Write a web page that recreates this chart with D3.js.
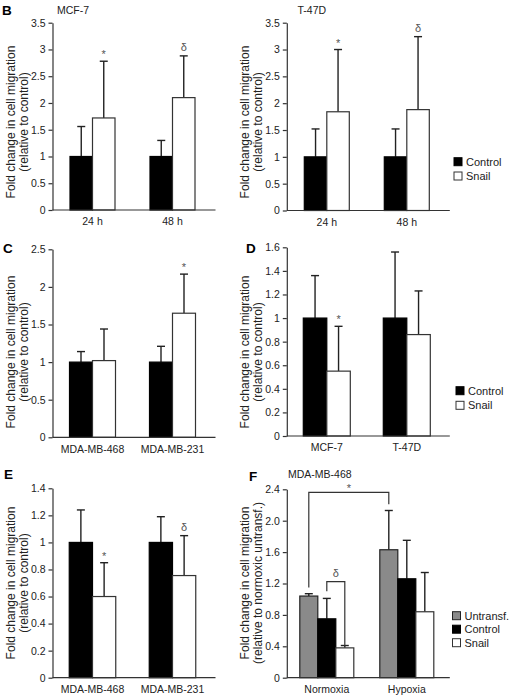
<!DOCTYPE html>
<html><head><meta charset="utf-8">
<script src="https://cdn.jsdelivr.net/npm/d3@7"></script>
<style>
body{margin:0;background:#fff}
text{font-family:"Liberation Sans",Arial,Helvetica,sans-serif;fill:#222}
</style>
</head><body>
<svg id="chart" width="515" height="696"></svg>
<script>
// ---------- DATA ----------
const timeCategories = ["24 h", "48 h"];
const mcf7Control = [1, 1];
const mcf7ControlErr = [0.56, 0.30];
const mcf7Snail = [1.72, 2.10];
const mcf7SnailErr = [1.06, 0.78];
const mcf7Marks = ["*", "δ"];

const t47dControl = [1, 1];
const t47dControlErr = [0.52, 0.52];
const t47dSnail = [1.84, 1.88];
const t47dSnailErr = [1.16, 1.36];
const t47dMarks = ["*", "δ"];

const mdaCategories = ["MDA-MB-468", "MDA-MB-231"];
const cControl = [1, 1];
const cControlErr = [0.14, 0.21];
const cSnail = [1.02, 1.65];
const cSnailErr = [0.42, 0.52];
const cMarks = ["", "*"];

const luminalCategories = ["MCF-7", "T-47D"];
const dControl = [1, 1];
const dControlErr = [0.36, 0.56];
const dSnail = [0.55, 0.86];
const dSnailErr = [0.38, 0.37];
const dMarks = ["*", ""];

const eControl = [1, 1];
const eControlErr = [0.24, 0.19];
const eSnail = [0.60, 0.755];
const eSnailErr = [0.25, 0.295];
const eMarks = ["*", "δ"];

const oxygenCategories = ["Normoxia", "Hypoxia"];
const fUntransf = [1.04, 1.63];
const fUntransfErr = [0.03, 0.50];
const fControl = [0.75, 1.26];
const fControlErr = [0.26, 0.49];
const fSnail = [0.38, 0.84];
const fSnailErr = [0.03, 0.50];

const ticksB = [0, 0.5, 1, 1.5, 2, 2.5, 3, 3.5];
const tickLabelsB = ["0", "0.5", "1", "1.5", "2", "2.5", "3", "3.5"];
const ticksC = [0, 0.5, 1, 1.5, 2, 2.5];
const tickLabelsC = ["0", "0.5", "1", "1.5", "2", "2.5"];
const ticksD = [0, 0.2, 0.4, 0.6, 0.8, 1, 1.2, 1.4, 1.6];
const tickLabelsD = ["0", "0.2", "0.4", "0.6", "0.8", "1", "1.2", "1.4", "1.6"];
const ticksE = [0, 0.2, 0.4, 0.6, 0.8, 1, 1.2, 1.4];
const tickLabelsE = ["0", "0.2", "0.4", "0.6", "0.8", "1", "1.2", "1.4"];
const ticksF = [0, 0.4, 0.8, 1.2, 1.6, 2.0, 2.4];
const tickLabelsF = ["0", "0.4", "0.8", "1.2", "1.6", "2.0", "2.4"];

// F significance brackets (levels in data units)
const fBrackets = [
  {from: ["Normoxia", "Untransf."], to: ["Hypoxia", "Untransf."], top: 2.36, leftEnd: 1.15, rightEnd: 2.21, label: "*"},
  {from: ["Normoxia", "Control"], to: ["Normoxia", "Snail"], top: 1.225, leftEnd: 1.10, rightEnd: 0.40, label: "δ"}
];

// ---------- DRAWING ----------
const svg = d3.select("#chart");
const STYLE = {
  "Control": {fill: "#000", stroke: "#000"},
  "Snail": {fill: "#fff", stroke: "#333"},
  "Untransf.": {fill: "#8a8a8a", stroke: "#222"}
};
const yLabel1 = "Fold change in cell migration";

function drawPanel(cfg) {
  const g = svg.append("g");
  const y = d3.scaleLinear().domain([0, cfg.yMax]).range([cfg.yBottom, cfg.yTop]);
  const x0 = d3.scaleBand().domain(cfg.categories).range([cfg.axisX, cfg.axisX + 160]);
  const names = cfg.series.map(s => s.name);
  const x1 = d3.scaleBand().domain(names).range([-cfg.groupWidth / 2, cfg.groupWidth / 2]);

  cfg.series.forEach(s => {
    const st = STYLE[s.name];
    const cx = c => x0(c) + x0.bandwidth() / 2 + x1(s.name);
    g.selectAll(null).data(cfg.categories).enter().append("line")
      .attr("x1", (c) => cx(c) + x1.bandwidth() / 2)
      .attr("x2", (c) => cx(c) + x1.bandwidth() / 2)
      .attr("y1", (c, i) => y(s.values[i]))
      .attr("y2", (c, i) => y(s.values[i] + s.err[i]))
      .attr("stroke", "#222").attr("stroke-width", 1.4);
    g.selectAll(null).data(cfg.categories).enter().append("line")
      .attr("x1", (c) => cx(c) + x1.bandwidth() / 2 - 4)
      .attr("x2", (c) => cx(c) + x1.bandwidth() / 2 + 4)
      .attr("y1", (c, i) => y(s.values[i] + s.err[i]))
      .attr("y2", (c, i) => y(s.values[i] + s.err[i]))
      .attr("stroke", "#222").attr("stroke-width", 1.4);
    g.selectAll(null).data(cfg.categories).enter().append("rect")
      .attr("x", c => cx(c))
      .attr("y", (c, i) => y(s.values[i]))
      .attr("width", x1.bandwidth())
      .attr("height", (c, i) => y(0) - y(s.values[i]))
      .attr("fill", st.fill).attr("stroke", st.stroke).attr("stroke-width", 1.2);
    if (s.marks) {
      g.selectAll(null).data(cfg.categories).enter().append("text")
        .attr("x", c => cx(c) + x1.bandwidth() / 2)
        .attr("y", (c, i) => y(s.values[i] + s.err[i]) + (s.marks[i] === "*" ? -3 : -5))
        .attr("text-anchor", "middle")
        .attr("font-size", 11)
        .style("fill", "#555")
        .text((c, i) => s.marks[i]);
    }
  });

  const yAxis = d3.axisLeft(y).tickValues(cfg.ticks).tickFormat((d, i) => cfg.tickLabels[i])
    .tickSizeInner(4).tickSizeOuter(0).tickPadding(3);
  const ya = g.append("g").attr("transform", `translate(${cfg.axisX},0)`).call(yAxis);
  ya.selectAll("text").attr("font-size", 10.5).style("font-family", "Liberation Sans, Arial, sans-serif");
  ya.selectAll("line,path").attr("stroke", "#333").attr("stroke-width", 1.2);

  const xAxis = d3.axisBottom(x0).tickSize(0).tickPadding(8).tickSizeOuter(0);
  const xa = g.append("g").attr("transform", `translate(0,${cfg.yBottom})`).call(xAxis);
  xa.select("path").attr("d", `M${cfg.axisX},0H${cfg.axisX + cfg.axisLen}`).attr("stroke", "#333").attr("stroke-width", 1.2);
  xa.selectAll("text").attr("font-size", 10.5).style("font-family", "Liberation Sans, Arial, sans-serif");

  const yl = g.append("text").attr("transform", `translate(${cfg.axisX - 38},${cfg.yLabelY}) rotate(-90)`)
    .attr("text-anchor", "middle").attr("font-size", 12);
  yl.append("tspan").attr("x", 0).attr("dy", 0).text(yLabel1);
  yl.append("tspan").attr("x", 0).attr("dy", 13.5).text(cfg.yLabel2);

  if (cfg.letter) {
    g.append("text").attr("x", cfg.letterX).attr("y", cfg.letterY).attr("font-size", 13.5)
      .attr("font-weight", "bold").style("fill", "#000").text(cfg.letter);
  }
  if (cfg.title) {
    g.append("text").attr("x", cfg.titleX).attr("y", cfg.titleY).attr("font-size", 10.5).text(cfg.title);
  }
  if (cfg.legend) {
    cfg.legend.names.forEach((n, i) => {
      const st = STYLE[n];
      const ly = cfg.legend.y + i * cfg.legend.step;
      g.append("rect").attr("x", cfg.legend.x).attr("y", ly - 4).attr("width", 8).attr("height", 8)
        .attr("fill", st.fill).attr("stroke", st.stroke).attr("stroke-width", 1);
      g.append("text").attr("x", cfg.legend.x + 12).attr("y", ly + 4).attr("font-size", 11).text(n);
    });
  }
  if (cfg.brackets) {
    cfg.brackets.forEach(b => {
      const xa_ = x0(b.from[0]) + x0.bandwidth() / 2 + x1(b.from[1]) + x1.bandwidth() / 2;
      const xb_ = x0(b.to[0]) + x0.bandwidth() / 2 + x1(b.to[1]) + x1.bandwidth() / 2;
      g.append("path")
        .attr("d", `M${xa_},${y(b.leftEnd)}V${y(b.top)}H${xb_}V${y(b.rightEnd)}`)
        .attr("fill", "none").attr("stroke", "#333").attr("stroke-width", 1.2);
      g.append("text").attr("x", (xa_ + xb_) / 2).attr("y", y(b.top) + (b.label === "*" ? 0 : -5))
        .attr("text-anchor", "middle").attr("font-size", 11).style("fill", "#555").text(b.label);
    });
  }
}

const L = 52.5, R = 286.8;

drawPanel({
  axisX: L, axisLen: 163, yTop: 22.7, yBottom: 210, yMax: 3.5, ticks: ticksB, tickLabels: tickLabelsB,
  categories: timeCategories, groupWidth: 45, yLabelY: 122, yLabel2: "(relative to control)",
  series: [
    {name: "Control", values: mcf7Control, err: mcf7ControlErr},
    {name: "Snail", values: mcf7Snail, err: mcf7SnailErr, marks: mcf7Marks}
  ],
  letter: "B", letterX: 2, letterY: 15, title: "MCF-7", titleX: 57, titleY: 13.5
});
drawPanel({
  axisX: R, axisLen: 163, yTop: 22.7, yBottom: 210.5, yMax: 3.5, ticks: ticksB, tickLabels: tickLabelsB,
  categories: timeCategories, groupWidth: 45, yLabelY: 122, yLabel2: "(relative to control)",
  series: [
    {name: "Control", values: t47dControl, err: t47dControlErr},
    {name: "Snail", values: t47dSnail, err: t47dSnailErr, marks: t47dMarks}
  ],
  title: "T-47D", titleX: 297.5, titleY: 13.5,
  legend: {names: ["Control", "Snail"], x: 454, y: 161.7, step: 14.3}
});
drawPanel({
  axisX: L, axisLen: 163, yTop: 249.3, yBottom: 437.3, yMax: 2.5, ticks: ticksC, tickLabels: tickLabelsC,
  categories: mdaCategories, groupWidth: 46, yLabelY: 352, yLabel2: "(relative to control)",
  series: [
    {name: "Control", values: cControl, err: cControlErr},
    {name: "Snail", values: cSnail, err: cSnailErr, marks: cMarks}
  ],
  letter: "C", letterX: 3, letterY: 253
});
drawPanel({
  axisX: R, axisLen: 163, yTop: 247.3, yBottom: 436, yMax: 1.6, ticks: ticksD, tickLabels: tickLabelsD,
  categories: luminalCategories, groupWidth: 47, yLabelY: 352, yLabel2: "(relative to control)",
  series: [
    {name: "Control", values: dControl, err: dControlErr},
    {name: "Snail", values: dSnail, err: dSnailErr, marks: dMarks}
  ],
  letter: "D", letterX: 246, letterY: 253,
  legend: {names: ["Control", "Snail"], x: 456, y: 390.7, step: 14.6}
});
drawPanel({
  axisX: L, axisLen: 163, yTop: 488.3, yBottom: 677.7, yMax: 1.4, ticks: ticksE, tickLabels: tickLabelsE,
  categories: mdaCategories, groupWidth: 46.5, yLabelY: 583, yLabel2: "(relative to control)",
  series: [
    {name: "Control", values: eControl, err: eControlErr},
    {name: "Snail", values: eSnail, err: eSnailErr, marks: eMarks}
  ],
  letter: "E", letterX: 4, letterY: 479
});
drawPanel({
  axisX: R, axisLen: 163, yTop: 489.3, yBottom: 677.7, yMax: 2.4, ticks: ticksF, tickLabels: tickLabelsF,
  categories: oxygenCategories, groupWidth: 54, yLabelY: 583, yLabel2: "(relative to normoxic untransf.)",
  series: [
    {name: "Untransf.", values: fUntransf, err: fUntransfErr},
    {name: "Control", values: fControl, err: fControlErr},
    {name: "Snail", values: fSnail, err: fSnailErr}
  ],
  letter: "F", letterX: 249, letterY: 481, title: "MDA-MB-468", titleX: 288, titleY: 478,
  legend: {names: ["Untransf.", "Control", "Snail"], x: 452.5, y: 615.7, step: 13.5},
  brackets: fBrackets
});
</script>
</body></html>
